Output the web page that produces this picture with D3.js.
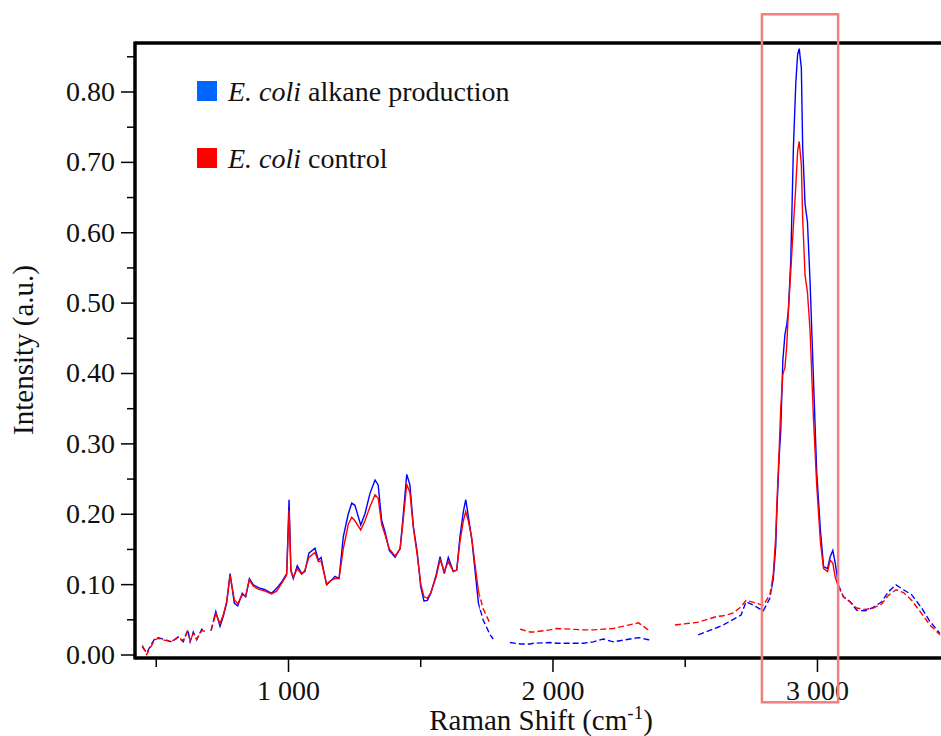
<!DOCTYPE html>
<html>
<head>
<meta charset="utf-8">
<script src="https://cdn.jsdelivr.net/npm/d3@7"></script>
<style>
  body { margin: 0; background: #fff; }
  svg { display: block; }
</style>
</head>
<body>
<svg id="chart" width="941" height="736"></svg>
<script>
// Raman shift (cm-1) where the two spectra were read
const shift = [449, 466, 478, 497, 510, 535, 560, 585, 604, 621, 630, 642, 655, 674, 686, 700, 709, 727, 743, 755,
  768, 781, 797, 810, 827, 840, 854, 869, 888, 913, 938, 957, 976, 995, 1004, 1011, 1020, 1035, 1052, 1064,
  1079, 1102, 1115, 1125, 1146, 1165, 1178, 1193, 1209, 1228, 1241, 1253, 1275, 1291, 1310, 1329, 1341, 1354, 1367, 1383,
  1405, 1424, 1434, 1449, 1461, 1474, 1489, 1502, 1514, 1527, 1540, 1560, 1575, 1591, 1606, 1625, 1638, 1650, 1663, 1672,
  1682, 1695, 1707, 1720, 1738, 1764, 1776, 1800, 1839, 1877, 1915, 1928, 1991, 2016, 2117, 2154, 2192, 2230, 2325, 2362,
  2375, 2420, 2463, 2533, 2551, 2621, 2646, 2684, 2713, 2732, 2760, 2797, 2822, 2835, 2844, 2848, 2857, 2863, 2871, 2879,
  2886, 2892, 2901, 2911, 2920, 2927, 2933, 2941, 2946, 2955, 2964, 2974, 2986, 2999, 3013, 3025, 3040, 3050, 3060, 3069,
  3081, 3100, 3125, 3150, 3182, 3213, 3245, 3270, 3299, 3327, 3358, 3396, 3427, 3465];

// E. coli alkane production (blue)
const alkane = [0.011, 0.002, 0.011, 0.023, 0.024, 0.021, 0.018, 0.025, 0.018, 0.035, 0.018, 0.032, 0.021, 0.036, 0.034, null, 0.034, 0.061, 0.040, 0.054,
  0.073, 0.115, 0.073, 0.069, 0.087, 0.082, 0.108, 0.099, 0.095, 0.092, 0.087, 0.094, 0.103, 0.115, 0.220, 0.120, 0.108, 0.126, 0.115, 0.118,
  0.144, 0.151, 0.134, 0.138, 0.099, 0.106, 0.111, 0.108, 0.167, 0.200, 0.215, 0.212, 0.184, 0.200, 0.229, 0.248, 0.241, 0.191, 0.174, 0.148,
  0.138, 0.151, 0.191, 0.256, 0.241, 0.182, 0.144, 0.096, 0.076, 0.077, 0.087, 0.113, 0.139, 0.115, 0.138, 0.118, 0.120, 0.167, 0.203, 0.220,
  0.196, 0.163, 0.120, 0.073, 0.049, 0.028, 0.022, null, 0.017, 0.015, 0.015, 0.016, 0.017, 0.016, 0.016, 0.018, 0.022, 0.018, 0.024, 0.021,
  0.021, null, null, null, 0.028, 0.038, 0.042, 0.050, 0.056, 0.075, 0.070, 0.062, 0.080, 0.108, 0.153, 0.200, 0.280, 0.317, 0.418, 0.455,
  0.469, 0.489, 0.560, 0.721, 0.812, 0.853, 0.861, 0.833, 0.721, 0.640, 0.615, 0.529, 0.400, 0.260, 0.177, 0.125, 0.122, 0.139, 0.148, 0.130,
  0.099, 0.082, 0.075, 0.063, 0.062, 0.067, 0.075, 0.089, 0.099, 0.092, 0.085, 0.066, 0.047, 0.030];

// E. coli control (red)
const control = [0.013, 0.000, 0.009, 0.021, 0.023, 0.020, 0.019, 0.024, 0.020, 0.033, 0.020, 0.030, 0.022, 0.034, 0.033, null, 0.034, 0.058, 0.044, 0.056,
  0.075, 0.112, 0.078, 0.072, 0.085, 0.083, 0.106, 0.097, 0.093, 0.090, 0.086, 0.090, 0.101, 0.113, 0.205, 0.118, 0.110, 0.122, 0.114, 0.120,
  0.138, 0.145, 0.132, 0.133, 0.100, 0.106, 0.108, 0.108, 0.150, 0.185, 0.195, 0.190, 0.177, 0.190, 0.210, 0.227, 0.222, 0.185, 0.170, 0.150,
  0.140, 0.150, 0.185, 0.242, 0.230, 0.180, 0.140, 0.100, 0.082, 0.080, 0.088, 0.110, 0.135, 0.118, 0.132, 0.118, 0.120, 0.160, 0.190, 0.203,
  0.190, 0.165, 0.128, 0.090, 0.065, 0.044, null, null, null, 0.036, 0.032, 0.032, 0.035, 0.037, 0.035, 0.035, 0.036, 0.037, 0.045, 0.035,
  null, null, 0.042, 0.045, 0.046, 0.054, 0.055, 0.059, 0.068, 0.077, 0.074, 0.070, 0.085, 0.115, 0.167, 0.210, 0.290, 0.350, 0.398, 0.408,
  0.440, 0.489, 0.545, 0.610, 0.665, 0.716, 0.729, 0.696, 0.620, 0.539, 0.515, 0.460, 0.342, 0.241, 0.160, 0.122, 0.118, 0.134, 0.130, 0.110,
  0.096, 0.082, 0.075, 0.066, 0.064, 0.066, 0.072, 0.084, 0.092, 0.088, 0.077, 0.058, 0.042, 0.028];

const yMajor = [0, 0.1, 0.2, 0.3, 0.4, 0.5, 0.6, 0.7, 0.8];
const yMinor = [0.05, 0.15, 0.25, 0.35, 0.45, 0.55, 0.65, 0.75, 0.85];
const xMajor = [1000, 2000, 3000];
const xMinor = [500, 1500, 2500];
// stretches of the spectra that show up broken / dotted
const dashedRanges = [[421, 720], [1725, 2828], [3085, 3470]];
const solidRanges = [[720, 1725], [2828, 3085]];
const highlight = [2792, 3080];

const series = [
  { name: "alkane production", values: alkane, color: "#0000ff", key: "#0066ff" },
  { name: "control", values: control, color: "#ff0000", key: "#ff0000" }
];

const plotLeft = 135, plotRight = 941, plotTop = 43, axisY = 658;
const serif = "Liberation Serif, DejaVu Serif, serif";

const x = d3.scaleLinear().domain([421.5, 3469]).range([plotLeft, plotRight]);
const y = d3.scaleLinear().domain([0, 0.8]).range([654.5, 91.5]);

const svg = d3.select("#chart");

// clip regions for solid vs dotted pieces of the traces
const defs = svg.append("defs");
function addClip(id, ranges) {
  const cp = defs.append("clipPath").attr("id", id);
  ranges.forEach(([a, b]) => {
    cp.append("rect")
      .attr("x", x(a)).attr("y", plotTop)
      .attr("width", x(b) - x(a)).attr("height", axisY - plotTop);
  });
}
addClip("clip-solid", solidRanges);
addClip("clip-dashed", dashedRanges);

const line = d3.line()
  .defined((d) => d[1] !== null)
  .x((d) => x(d[0]))
  .y((d) => y(d[1]));

const lines = svg.append("g");
series.forEach((s) => {
  const pts = shift.map((v, i) => [v, s.values[i]]);
  lines.append("path")
    .attr("clip-path", "url(#clip-solid)")
    .attr("fill", "none")
    .attr("stroke", s.color)
    .attr("stroke-width", 1.4)
    .attr("d", line(pts));
  lines.append("path")
    .attr("clip-path", "url(#clip-dashed)")
    .attr("fill", "none")
    .attr("stroke", s.color)
    .attr("stroke-width", 1.4)
    .attr("stroke-dasharray", "6,3")
    .attr("d", line(pts));
});

// left axis
svg.append("g")
  .attr("transform", `translate(${plotLeft},0)`)
  .call(d3.axisLeft(y).tickValues(yMajor).tickSize(14).tickPadding(6).tickFormat(d3.format(".2f")));
svg.append("g")
  .attr("transform", `translate(${plotLeft},0)`)
  .call(d3.axisLeft(y).tickValues(yMinor).tickSize(8).tickFormat(""));

// bottom axis
svg.append("g")
  .attr("transform", `translate(0,${axisY})`)
  .call(d3.axisBottom(x).tickValues(xMajor).tickSize(14).tickPadding(8)
    .tickFormat((d) => d3.format(",")(d).replace(",", " ")));
svg.append("g")
  .attr("transform", `translate(0,${axisY})`)
  .call(d3.axisBottom(x).tickValues(xMinor).tickSize(9).tickFormat(""));

svg.selectAll(".domain").remove();
svg.selectAll(".tick line").attr("stroke", "#000").attr("stroke-width", 1.5);
svg.selectAll(".tick text")
  .attr("fill", "#111")
  .attr("font-family", serif)
  .attr("font-size", 28);

// frame
svg.append("line").attr("x1", plotLeft).attr("x2", plotLeft).attr("y1", plotTop - 1.5).attr("y2", axisY + 1.5)
  .attr("stroke", "#000").attr("stroke-width", 3.5);
svg.append("line").attr("x1", plotLeft).attr("x2", plotRight).attr("y1", plotTop).attr("y2", plotTop)
  .attr("stroke", "#000").attr("stroke-width", 3.5);
svg.append("line").attr("x1", plotLeft).attr("x2", plotRight).attr("y1", axisY).attr("y2", axisY)
  .attr("stroke", "#000").attr("stroke-width", 3.5);

// highlight box round the C-H stretch peak
svg.append("rect")
  .attr("x", x(highlight[0])).attr("y", 14.3)
  .attr("width", x(highlight[1]) - x(highlight[0])).attr("height", 688)
  .attr("fill", "none")
  .attr("stroke", "#f08080")
  .attr("stroke-width", 2.5);

// axis titles
svg.append("text")
  .attr("transform", "translate(33,350) rotate(-90)")
  .attr("text-anchor", "middle")
  .attr("font-family", serif)
  .attr("font-size", 29)
  .attr("fill", "#111")
  .text("Intensity (a.u.)");

const xTitle = svg.append("text")
  .attr("x", 541).attr("y", 730)
  .attr("text-anchor", "middle")
  .attr("font-family", serif)
  .attr("font-size", 29)
  .attr("fill", "#111");
xTitle.append("tspan").text("Raman Shift (cm");
xTitle.append("tspan").attr("font-size", 19).attr("dy", -11).text("-1");
xTitle.append("tspan").attr("dy", 11).text(")");

// legend
const legend = svg.append("g");
series.forEach((s, i) => {
  const g = legend.append("g").attr("transform", `translate(197,${81 + i * 67})`);
  g.append("rect").attr("width", 20).attr("height", 20).attr("fill", s.key);
  const t = g.append("text").attr("x", 31).attr("y", 20)
    .attr("font-family", serif).attr("font-size", 28).attr("fill", "#111");
  t.append("tspan").attr("font-style", "italic").text("E. coli");
  t.append("tspan").text(" " + s.name);
});
</script>
</body>
</html>
